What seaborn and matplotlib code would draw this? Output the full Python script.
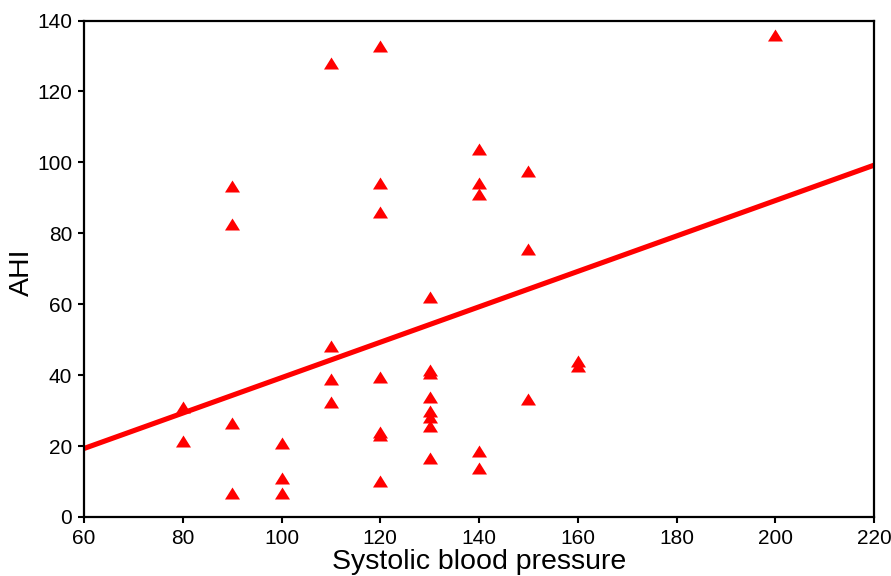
import matplotlib
matplotlib.use("Agg")
import matplotlib.pyplot as plt
import seaborn as sns
import pandas as pd

# Data
sbp = [80, 80,
       90, 90, 90, 90,
       100, 100, 100,
       110, 110, 110, 110,
       120, 120, 120, 120, 120, 120, 120,
       130, 130, 130, 130, 130, 130, 130, 130,
       140, 140, 140, 140, 140,
       150, 150, 150,
       160, 160,
       200]
ahi = [30.9, 21.3,
       93.3, 82.6, 26.4, 6.9,
       20.8, 11.1, 6.9,
       128.1, 48.2, 39.0, 32.4,
       132.7, 94.3, 85.9, 39.4, 24.1, 23.1, 10.2,
       62.1, 41.5, 40.5, 33.9, 30.0, 28.1, 25.6, 16.6,
       103.9, 94.3, 91.0, 18.5, 13.8,
       97.5, 75.6, 33.4,
       44.1, 42.6,
       136.0]
x_ticks = [60, 80, 100, 120, 140, 160, 180, 200, 220]
y_ticks = [0, 20, 40, 60, 80, 100, 120, 140]

df = pd.DataFrame({"Systolic blood pressure": sbp, "AHI": ahi})

sns.set_theme(style="white")
plt.rcParams['font.family'] = ['Liberation Sans', 'DejaVu Sans']

fig = plt.figure(figsize=(8.91, 5.76), dpi=100)
ax = fig.add_axes([84 / 891, (576 - 517) / 576, (874 - 84) / 891, (517 - 20.5) / 576])
ax.set_xlim(60, 220)
ax.set_ylim(0, 140)

tri = [(-1.25, -1), (1.25, -1), (0, 1)]
sns.regplot(data=df, x="Systolic blood pressure", y="AHI", ax=ax,
            ci=None, truncate=False, marker=tri,
            scatter_kws=dict(s=117, color="#ff0000", linewidths=0, alpha=1),
            line_kws=dict(color="#ff0000", lw=3.7, solid_capstyle="butt"))

ax.set_xlim(60, 220)
ax.set_ylim(0, 140)
ax.set_xticks(x_ticks)
ax.set_yticks(y_ticks)
ax.tick_params(axis="both", direction="out", length=4.5, width=1.5, color="black",
               labelsize=15, labelcolor="black", pad=4,
               bottom=True, left=True, top=False, right=False)
for s in ax.spines.values():
    s.set_visible(True)
    s.set_color("black")
    s.set_linewidth(1.6)

ax.set_xlabel("Systolic blood pressure", fontsize=20.5, color="black", va="baseline")
ax.xaxis.set_label_coords(0.5, -0.104)
ax.set_ylabel("AHI", fontsize=20.5, color="black", va="center")
ax.yaxis.set_label_coords(-0.079, 0.492)

fig.savefig("out.png", dpi=100)
